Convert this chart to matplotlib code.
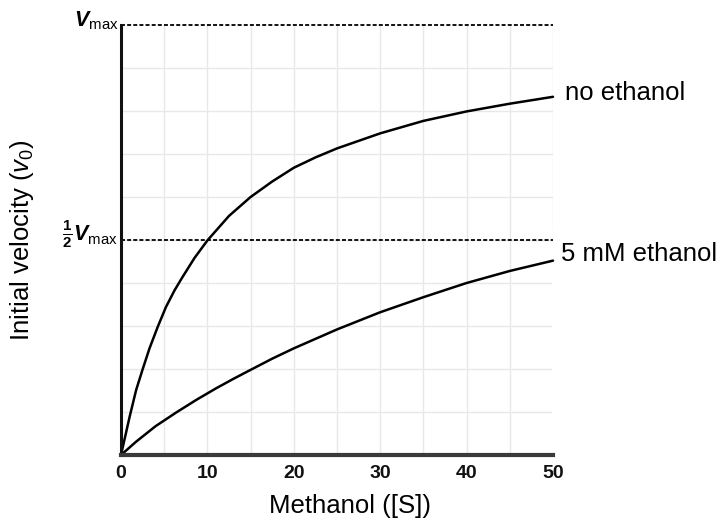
import matplotlib
matplotlib.use("Agg")
import matplotlib.pyplot as plt
from matplotlib.patches import Rectangle

plt.rcParams['font.family'] = ['Liberation Sans', 'DejaVu Sans']
plt.rcParams['mathtext.fontset'] = 'custom'
plt.rcParams['mathtext.rm'] = 'Liberation Sans'
plt.rcParams['mathtext.it'] = 'Liberation Sans:italic'
plt.rcParams['mathtext.bf'] = 'Liberation Sans:bold'
plt.rcParams['mathtext.bfit'] = 'Liberation Sans:italic:bold'

# Methanol concentration [S] and initial velocity as a fraction of Vmax
methanol_no_ethanol = [0, 1, 1.75, 2.5, 3.3, 4.25, 5.2, 6.2, 7, 8.5, 10, 12.5, 15, 17.5, 20, 22.5, 25,
                       30, 35, 40, 45, 50]
velocity_no_ethanol = [0, 0.089, 0.151, 0.199, 0.248, 0.298, 0.344, 0.383, 0.41, 0.458, 0.499, 0.556,
                       0.600, 0.636, 0.668, 0.692, 0.713, 0.748, 0.777, 0.799, 0.817, 0.833]

methanol_ethanol = [0, 1.75, 4, 6.4, 8.7, 11, 13, 15, 17.5, 20, 22.5, 25, 30, 35, 40, 45, 50]
velocity_ethanol = [0, 0.031, 0.067, 0.099, 0.128, 0.155, 0.177, 0.198, 0.224, 0.248, 0.27, 0.292,
                    0.332, 0.367, 0.400, 0.428, 0.452]

series_labels = ["no ethanol", "5 mM ethanol"]
x_ticks = [0, 10, 20, 30, 40, 50]
x_grid = [5, 10, 15, 20, 25, 30, 35, 40, 45, 50]
y_grid = [0.1, 0.2, 0.3, 0.4, 0.5, 0.6, 0.7, 0.8, 0.9]
vmax = 1.0
half_vmax = 0.5

W, H = 723, 520
fig = plt.figure(figsize=(W / 100, H / 100), dpi=100)
ax = fig.add_axes([121 / W, (H - 455) / H, (553 - 121) / W, (455 - 25) / H])
ax.set_xlim(0, 50)
ax.set_ylim(0, 1)

grid_color = '#e8e8e8'
for gx in x_grid:
    ax.axvline(gx, color=grid_color, lw=1.0, zorder=0)
for gy in y_grid:
    ax.axhline(gy, color=grid_color, lw=1.0, zorder=0)

# white panel behind the lower curve label
ax.add_patch(Rectangle((49.9, 0.0), 3, 0.52, transform=ax.transData,
                       facecolor='white', edgecolor='none', zorder=0.5, clip_on=False))

# reference levels
ax.plot([0, 50], [vmax, vmax], color='black', lw=1.3, ls=(0, (2.2, 1.2)), clip_on=False, zorder=2)
ax.plot([0, 50], [half_vmax, half_vmax], color='black', lw=1.3, ls=(0, (2.2, 1.2)), clip_on=False, zorder=2)

ax.plot(methanol_no_ethanol, velocity_no_ethanol, color='black', lw=1.8, zorder=3,
        solid_capstyle='round', solid_joinstyle='round', clip_on=False)
ax.plot(methanol_ethanol, velocity_ethanol, color='black', lw=1.8, zorder=3,
        solid_capstyle='round', solid_joinstyle='round', clip_on=False)

for s in ['top', 'right']:
    ax.spines[s].set_visible(False)
ax.spines['left'].set_linewidth(2.2)
ax.spines['left'].set_color('#111111')
ax.spines['bottom'].set_linewidth(3.0)
ax.spines['bottom'].set_color('#3a3a3a')
ax.spines['left'].set_zorder(4)
ax.spines['bottom'].set_zorder(4)

ax.set_xticks(x_ticks)
ax.set_xticklabels([str(t) for t in x_ticks], fontsize=14, fontweight='bold', color='#111111')
ax.tick_params(axis='x', length=0, pad=7)
ax.set_yticks([])


def px(x, y):
    """Figure-fraction coordinates from pixel position (origin top-left)."""
    return x / W, 1 - y / H


# level labels on the velocity axis
fig.text(*px(119, 26.5), r'$\mathbfit{V}_{\mathrm{max}}$', fontsize=15.5, ha='right', va='baseline')
fig.text(*px(118, 240.5), r'$\frac{\mathbf{1}}{\mathbf{2}}\mathbfit{V}_{\mathrm{max}}$', fontsize=15.5,
         ha='right', va='baseline')

# curve labels
fig.text(*px(565, 100), series_labels[0], fontsize=18.5, ha='left', va='baseline')
fig.text(*px(561, 261), series_labels[1], fontsize=18.5, ha='left', va='baseline')

# axis titles
fig.text(*px(350, 513), 'Methanol ([S])', fontsize=18.5, ha='center', va='baseline')
fig.text(*px(22, 240), r'Initial velocity ($v_0$)', fontsize=18.5, ha='center', va='center',
         rotation=90)

fig.savefig('out.png', dpi=100)
